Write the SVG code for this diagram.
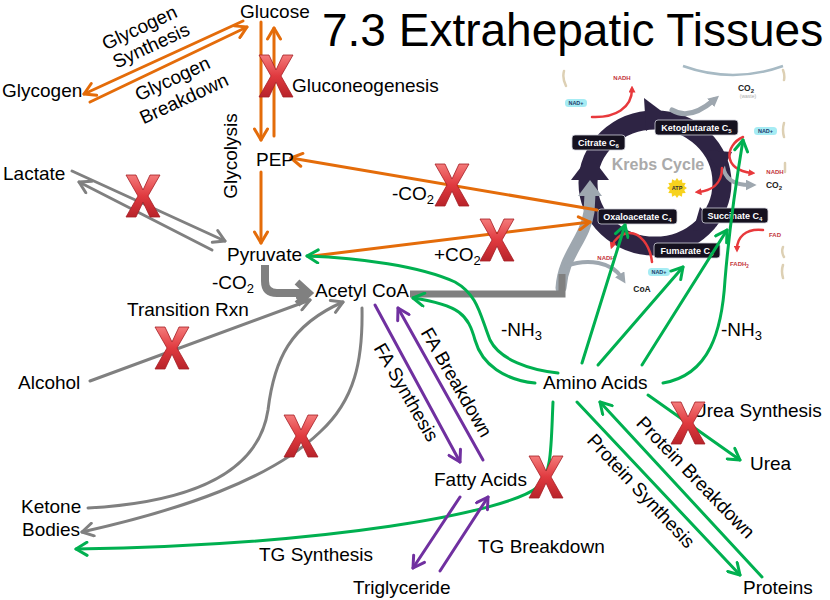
<svg xmlns="http://www.w3.org/2000/svg" width="830" height="600" viewBox="0 0 830 600">
<defs>
<style>
.t{font-family:"Liberation Sans",Arial,sans-serif;font-size:19px;fill:#000}
.title{font-family:"Liberation Sans",Arial,sans-serif;font-size:46px;fill:#000}
.c{fill:none;stroke-width:3;stroke-linecap:round}
.o{stroke:#E46C0A}
.gn{stroke:#00B050}
.pu{stroke:#7030A0}
.gy{stroke:#808080}
.kb{fill:#15111F;stroke:#D0D0DA;stroke-width:0.8}
.kt{font-family:"Liberation Sans",Arial,sans-serif;font-size:9px;font-weight:bold;fill:#fff}
.kr{font-family:"Liberation Sans",Arial,sans-serif;font-size:6px;font-weight:bold;fill:#C4343C}
.kn{fill:#A6ECF4}
.knt{font-family:"Liberation Sans",Arial,sans-serif;font-size:5.5px;font-weight:bold;fill:#1F3C6E}
.kd{font-family:"Liberation Sans",Arial,sans-serif;font-size:8.5px;font-weight:bold;fill:#222}
.ka{fill:none;stroke:#9EA7AF;stroke-linecap:round}
.rd{fill:none;stroke:#E8393C;stroke-width:2.5;stroke-linecap:round}
.bg{fill:none;stroke:#DDD0B4;stroke-width:2.5;stroke-linecap:round}
</style>
<marker id="mo" viewBox="0 0 16 16" refX="13" refY="8" markerWidth="16" markerHeight="16" markerUnits="userSpaceOnUse" orient="auto"><path d="M2,1.5 L13,8 L2,14.5" fill="none" stroke="#E46C0A" stroke-width="3" stroke-linecap="round" stroke-linejoin="round"/></marker>
<marker id="mg" viewBox="0 0 16 16" refX="13" refY="8" markerWidth="16" markerHeight="16" markerUnits="userSpaceOnUse" orient="auto"><path d="M2,1.5 L13,8 L2,14.5" fill="none" stroke="#00B050" stroke-width="3" stroke-linecap="round" stroke-linejoin="round"/></marker>
<marker id="mp" viewBox="0 0 16 16" refX="13" refY="8" markerWidth="16" markerHeight="16" markerUnits="userSpaceOnUse" orient="auto"><path d="M2,1.5 L13,8 L2,14.5" fill="none" stroke="#7030A0" stroke-width="3" stroke-linecap="round" stroke-linejoin="round"/></marker>
<marker id="my" viewBox="0 0 16 16" refX="13" refY="8" markerWidth="16" markerHeight="16" markerUnits="userSpaceOnUse" orient="auto"><path d="M2,1.5 L13,8 L2,14.5" fill="none" stroke="#808080" stroke-width="3" stroke-linecap="round" stroke-linejoin="round"/></marker>
<marker id="mr" viewBox="0 0 10 10" refX="5" refY="5" markerWidth="7" markerHeight="7" markerUnits="userSpaceOnUse" orient="auto"><path d="M0,0 L10,5 L0,10z" fill="#E8393C"/></marker>
<marker id="mk" viewBox="0 0 10 10" refX="4" refY="5" markerWidth="11" markerHeight="11" markerUnits="userSpaceOnUse" orient="auto"><path d="M0,0 L10,5 L0,10z" fill="#9EA7AF"/></marker>
<linearGradient id="xg" x1="0" y1="0" x2="0" y2="1"><stop offset="0" stop-color="#F47A7A"/><stop offset="0.5" stop-color="#E03A3F"/><stop offset="1" stop-color="#B8232A"/></linearGradient>
<g id="X"><polygon points="-17,-21 -7,-21 0,-6 7,-21 17,-21 5,0 17,21 7,21 0,6 -7,21 -17,21 -5,0" fill="url(#xg)" stroke="#A51E24" stroke-width="0.8" stroke-linejoin="round"/></g>
</defs>
<rect width="830" height="600" fill="#fff"/>

<text class="title" x="322" y="46">7.3 Extrahepatic Tissues</text>

<g id="krebs">
  <path d="M683,66 Q733,84 783,66" fill="none" stroke="#A7BAC4" stroke-width="2.5"/>
  <path class="bg" d="M564,71 Q562,78 566,86 M783,70 Q785,75 784,80 M784,123 Q782,130 784,137 M785,163 L785,172 M783,247 Q781,252 784,257 M783,265 Q781,271 783,278"/>
  <ellipse cx="655" cy="183" rx="67" ry="63" fill="none" stroke="#2E2444" stroke-width="19"/>
  <path class="ka" d="M561,288 C563,255 585,240 589,212 L590,194" stroke-width="11"/>
  <polygon points="578,196 602,196 590,180" fill="#9EA7AF"/>
  <path class="ka" d="M566,266 C588,258 612,262 622,278" stroke-width="4" marker-end="url(#mk)"/>
  <path class="ka" d="M672,110 C685,118 700,112 714,100" stroke-width="5" marker-end="url(#mk)"/>
  <path class="ka" d="M723,166 C725,182 738,185 750,185" stroke-width="4" marker-end="url(#mk)"/>
  <g fill="#2E2444">
    <polygon points="644,98 668,116 646,131"/>
    <polygon points="571,180 590,155 609,180"/>
    <polygon points="704,150 732,152 721,173"/>
    <polygon points="700,207 717,226 693,231"/>
  </g>
  <path class="rd" d="M592,117 C615,118 632,108 632,89" marker-end="url(#mr)"/>
  <path class="rd" d="M743,137 C725,145 722,170 752,173" marker-end="url(#mr)"/>
  <path class="rd" d="M722,168 C722,185 710,191 698,192" marker-end="url(#mr)"/>
  <path class="rd" d="M763,230 C745,228 737,238 737,249" marker-end="url(#mr)"/>
  <path class="rd" d="M652,262 C650,245 640,232 628,233 C620,234 614,240 612,246" marker-end="url(#mr)"/>
  <polygon points="687,188 684.2,189.9 685.7,193 682.3,193.3 682,196.7 678.9,195.2 677,198 675.1,195.2 672,196.7 671.7,193.3 668.3,193 669.8,189.9 667,188 669.8,186.1 668.3,183 671.7,182.7 672,179.3 675.1,180.8 677,178 678.9,180.8 682,179.3 682.3,182.7 685.7,183 684.2,186.1" fill="#F7D21E"/>
  <text x="677" y="190" text-anchor="middle" font-family="Liberation Sans, Arial, sans-serif" font-size="5.5" font-weight="bold" fill="#333">ATP</text>
  <text x="658" y="170" text-anchor="middle" font-family="Liberation Sans, Arial, sans-serif" font-size="16" font-weight="bold" fill="#AAAAAA">Krebs Cycle</text>
  <rect class="kb" x="572" y="135" width="53" height="15" rx="3"/>
  <text class="kt" x="598.5" y="146" text-anchor="middle">Citrate C<tspan font-size="6" dy="2">6</tspan></text>
  <rect class="kb" x="655" y="120" width="83" height="15" rx="3"/>
  <text class="kt" x="696.5" y="131" text-anchor="middle">Ketoglutarate C<tspan font-size="6" dy="2">5</tspan></text>
  <rect class="kb" x="598" y="209" width="79" height="15" rx="3"/>
  <text class="kt" x="637.5" y="220" text-anchor="middle">Oxaloacetate C<tspan font-size="6" dy="2">4</tspan></text>
  <rect class="kb" x="702" y="208" width="66" height="15" rx="3"/>
  <text class="kt" x="735" y="219" text-anchor="middle">Succinate C<tspan font-size="6" dy="2">4</tspan></text>
  <rect class="kb" x="654" y="243" width="66" height="15" rx="3"/>
  <text class="kt" x="687" y="254" text-anchor="middle">Fumarate C<tspan font-size="6" dy="2">4</tspan></text>
  <rect class="kn" x="565" y="99" width="22" height="8" rx="3.5"/>
  <text class="knt" x="576" y="105.2" text-anchor="middle">NAD+</text>
  <rect class="kn" x="754" y="127" width="23" height="8" rx="3.5"/>
  <text class="knt" x="765.5" y="133.2" text-anchor="middle">NAD+</text>
  <rect class="kn" x="648" y="268" width="22" height="8" rx="3.5"/>
  <text class="knt" x="659" y="274.2" text-anchor="middle">NAD+</text>
  <text class="kr" x="622" y="80" text-anchor="middle">NADH</text>
  <text class="kr" x="775" y="174" text-anchor="middle">NADH</text>
  <text class="kr" x="775" y="237" text-anchor="middle">FAD</text>
  <text class="kr" x="730" y="266">FADH<tspan font-size="4.5" dy="1.5">2</tspan></text>
  <text class="kr" x="606" y="260" text-anchor="middle">NADH</text>
  <text class="kd" x="746" y="91" text-anchor="middle">CO<tspan font-size="6" dy="1.5">2</tspan></text>
  <text x="748" y="98" text-anchor="middle" font-family="Liberation Sans, Arial, sans-serif" font-size="5" fill="#AAAAAA">(waste)</text>
  <text class="kd" x="774" y="188" text-anchor="middle">CO<tspan font-size="6" dy="1.5">2</tspan></text>
  <text class="kd" x="642" y="292" text-anchor="middle">CoA</text>
</g>

<g id="connectors">
  <path class="c o" d="M243,21 L84,94" marker-end="url(#mo)"/>
  <path class="c o" d="M90,102 L247,27" marker-end="url(#mo)"/>
  <path class="c o" d="M261,22 V140" marker-end="url(#mo)"/>
  <path class="c o" d="M274,136 V28" marker-end="url(#mo)"/>
  <path class="c o" d="M261,172 V243" marker-end="url(#mo)"/>
  <path class="c o" d="M597,210 L291,158" marker-end="url(#mo)"/>
  <path class="c o" d="M313,256 L590,222" marker-end="url(#mo)"/>

  <path class="c gy" d="M72,171 L225,241" marker-end="url(#my)"/>
  <path class="c gy" d="M212,250 L79,182" marker-end="url(#my)"/>
  <path class="c gy" d="M90,381 L310,300" marker-end="url(#my)"/>
  <path class="c gy" d="M88,508 C230,500 262,450 268,410 C274,360 290,325 343,302" marker-end="url(#my)"/>
  <path class="c gy" d="M362,308 C363,360 355,400 320,432 C270,480 180,510 82,532" marker-end="url(#my)"/>
  <path d="M265,265 V281 Q265,293 277,293 H305" fill="none" stroke="#808080" stroke-width="8"/>
  <path d="M297,282 L309,293 L297,304" fill="none" stroke="#808080" stroke-width="7" stroke-linejoin="miter"/>
  <path d="M410,294 H562 V274" fill="none" stroke="#808080" stroke-width="7"/>

  <path class="c gn" d="M558,373 C530,370 500,360 490,340 C480,315 478,295 455,282 C420,266 360,258 307,256" marker-end="url(#mg)"/>
  <path class="c gn" d="M535,383 C505,380 482,365 475,340 C468,315 460,305 413,298" marker-end="url(#mg)"/>
  <path class="c gn" d="M582,363 L625,225" marker-end="url(#mg)"/>
  <path class="c gn" d="M598,365 L683,267" marker-end="url(#mg)"/>
  <path class="c gn" d="M642,365 L727,230" marker-end="url(#mg)"/>
  <path class="c gn" d="M663,383 C710,375 722,330 725,280 C730,220 738,170 743,140" marker-end="url(#mg)"/>
  <path class="c gn" d="M553,402 C551,445 552,475 538,487 C505,513 330,545 76,549" marker-end="url(#mg)"/>
  <path class="c gn" d="M648,395 L740,460" marker-end="url(#mg)"/>
  <path class="c gn" d="M577,402 L740,575" marker-end="url(#mg)"/>
  <path class="c gn" d="M762,577 L600,402" marker-end="url(#mg)"/>

  <path class="c pu" d="M375,305 L460,462" marker-end="url(#mp)"/>
  <path class="c pu" d="M483,460 L398,308" marker-end="url(#mp)"/>
  <path class="c pu" d="M460,497 L413,568" marker-end="url(#mp)"/>
  <path class="c pu" d="M440,571 L488,497" marker-end="url(#mp)"/>
</g>

<g id="labels">
  <g id="glucose"><text class="t" x="240" y="18">Glucose</text></g>
  <g id="glycogen"><text class="t" x="2" y="97">Glycogen</text></g>
  <g id="gluconeogenesis"><text class="t" x="292" y="92">Gluconeogenesis</text></g>
  <g id="glycogen-synthesis" transform="translate(140,29) rotate(-25)"><text class="t" x="0" y="5" text-anchor="middle">Glycogen</text><text class="t" x="3" y="26" text-anchor="middle">Synthesis</text></g>
  <g id="glycogen-breakdown" transform="translate(173,80) rotate(-25)"><text class="t" x="0" y="5" text-anchor="middle">Glycogen</text><text class="t" x="2" y="28" text-anchor="middle">Breakdown</text></g>
  <g id="glycolysis"><text class="t" transform="translate(237,156) rotate(-90)" text-anchor="middle">Glycolysis</text></g>
  <g id="pep"><text class="t" x="256" y="166">PEP</text></g>
  <g id="lactate"><text class="t" x="3" y="180">Lactate</text></g>
  <g id="pyruvate"><text class="t" x="227" y="261">Pyruvate</text></g>
  <g id="co2-a"><text class="t" x="212" y="289">-CO<tspan font-size="13" dy="4">2</tspan></text></g>
  <g id="acetyl-coa"><text class="t" x="315" y="297">Acetyl CoA</text></g>
  <g id="transition"><text class="t" x="127" y="316">Transition Rxn</text></g>
  <g id="alcohol"><text class="t" x="18" y="389">Alcohol</text></g>
  <g id="co2-b"><text class="t" x="392" y="200">-CO<tspan font-size="13" dy="4">2</tspan></text></g>
  <g id="co2-c"><text class="t" x="434" y="261">+CO<tspan font-size="13" dy="4">2</tspan></text></g>
  <g id="nh3-a"><text class="t" x="501" y="336">-NH<tspan font-size="13" dy="4">3</tspan></text></g>
  <g id="nh3-b"><text class="t" x="721" y="336">-NH<tspan font-size="13" dy="4">3</tspan></text></g>
  <g id="amino-acids"><text class="t" x="543" y="389">Amino Acids</text></g>
  <g id="urea-synthesis"><text class="t" x="693" y="417">Urea Synthesis</text></g>
  <g id="urea"><text class="t" x="750" y="470">Urea</text></g>
  <g id="fa-synthesis"><text class="t" transform="translate(405,393) rotate(60)" y="5" text-anchor="middle">FA Synthesis</text></g>
  <g id="fa-breakdown"><text class="t" transform="translate(457,382) rotate(60)" y="7" text-anchor="middle">FA Breakdown</text></g>
  <g id="fatty-acids"><text class="t" x="434" y="486">Fatty Acids</text></g>
  <g id="ketone-bodies"><text class="t" x="21" y="513">Ketone</text><text class="t" x="22" y="536">Bodies</text></g>
  <g id="tg-synthesis"><text class="t" x="259" y="561">TG Synthesis</text></g>
  <g id="tg-breakdown"><text class="t" x="478" y="553">TG Breakdown</text></g>
  <g id="triglyceride"><text class="t" x="353" y="594">Triglyceride</text></g>
  <g id="protein-synthesis"><text class="t" transform="translate(640,492) rotate(47)" y="5" text-anchor="middle">Protein Synthesis</text></g>
  <g id="protein-breakdown"><text class="t" transform="translate(696,477) rotate(46)" y="7" text-anchor="middle">Protein Breakdown</text></g>
  <g id="proteins"><text class="t" x="743" y="594">Proteins</text></g>
</g>

<g id="blocks">
  <use href="#X" transform="translate(276,76)"/>
  <use href="#X" transform="translate(143,196)"/>
  <use href="#X" transform="translate(452,185)"/>
  <use href="#X" transform="translate(497,240)"/>
  <use href="#X" transform="translate(172,348)"/>
  <use href="#X" transform="translate(301,436)"/>
  <use href="#X" transform="translate(546,477)"/>
  <use href="#X" transform="translate(688,423)"/>
</g>
</svg>
